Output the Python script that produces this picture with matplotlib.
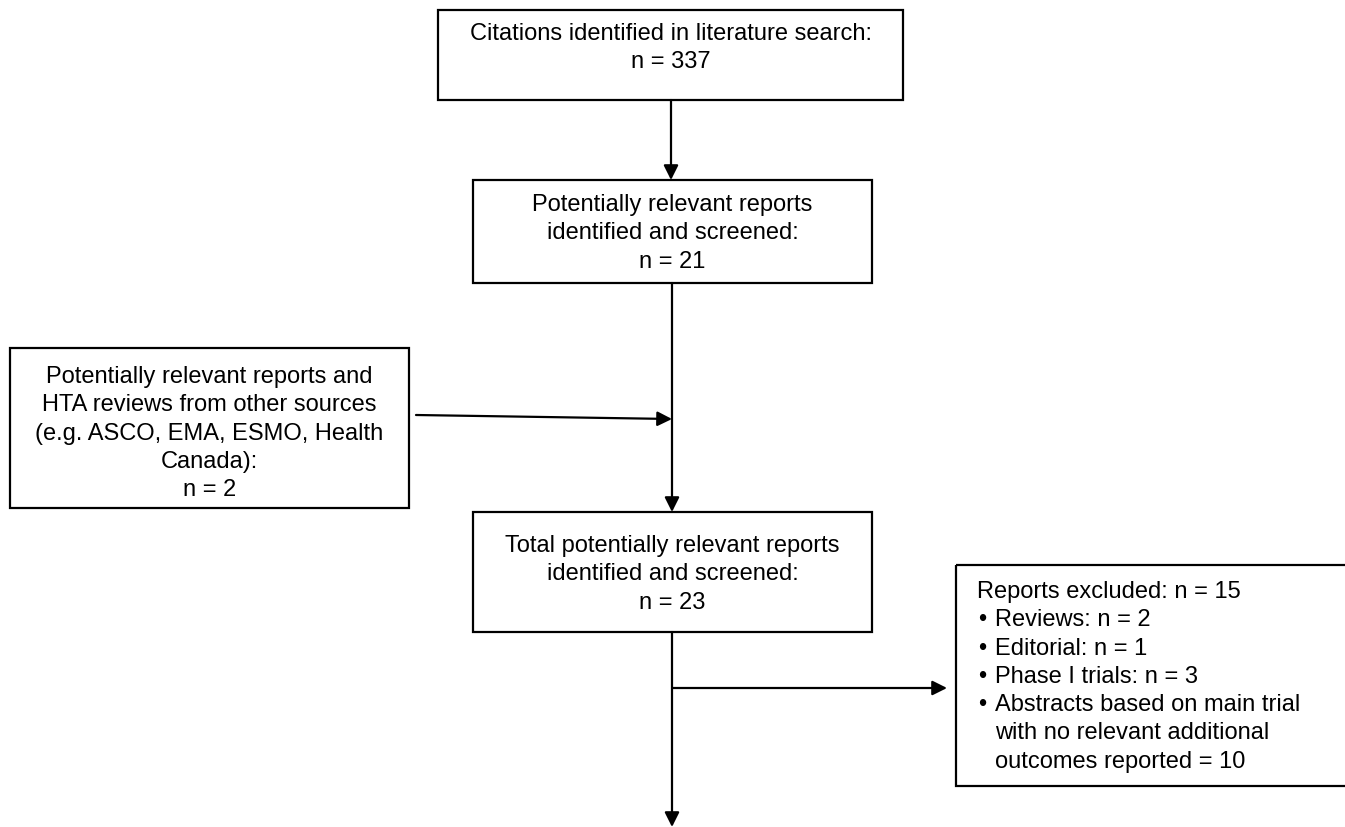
import matplotlib.pyplot as plt
from matplotlib.patches import Rectangle

plt.rcParams['font.family'] = ['Liberation Sans', 'DejaVu Sans']

# box texts of the flow diagram, one list of lines per box
box_lines = [
    ["Citations identified in literature search:", "n = 337"],
    ["Potentially relevant reports", "identified and screened:", "n = 21"],
    ["Potentially relevant reports and", "HTA reviews from other sources",
     "(e.g. ASCO, EMA, ESMO, Health", "Canada):", "n = 2"],
    ["Total potentially relevant reports", "identified and screened:", "n = 23"],
]
excluded_title = "Reports excluded: n = 15"
excluded_items = [["Reviews: n = 2"], ["Editorial: n = 1"], ["Phase I trials: n = 3"],
                  ["Abstracts based on main trial", "with no relevant additional",
                   "outcomes reported = 10"]]

fig = plt.figure(figsize=(13.45, 8.27), dpi=100)
ax = fig.add_axes([0, 0, 1, 1])
ax.set_xlim(0, 1345)
ax.set_ylim(827, 0)
ax.axis('off')

FS = 17
STEP = 28.3

# (x, y, w, h, first line y)
boxes = [(438, 10, 465, 90, 34), (473, 180, 399, 103, 205),
         (10, 348, 399, 160, 377), (473, 512, 399, 120, 546)]

for (x, y, w, h, ty), lines in zip(boxes, box_lines):
    ax.add_patch(Rectangle((x, y), w, h, fill=False, lw=1.6, ec='black'))
    for i, line in enumerate(lines):
        ax.text(x + w / 2, ty + i * STEP, line, ha='center', va='center', fontsize=FS)

# excluded box, runs off the right edge
ax.add_patch(Rectangle((956, 565), 500, 221, fill=False, lw=1.6, ec='black'))
ax.text(977, 592, excluded_title, ha='left', va='center', fontsize=FS)
y = 592 + STEP
for item in excluded_items:
    ax.text(978, y, "\u2022", ha='left', va='center', fontsize=FS)
    for line in item:
        ax.text(995, y, line, ha='left', va='center', fontsize=FS)
        y += STEP

arrows = [((671, 100), (671, 180)), ((672, 283), (672, 512)),
          ((416, 415), (672, 419)), ((672, 632), (672, 827)),
          ((673, 688), (947, 688))]
for start, end in arrows:
    ax.annotate("", xy=end, xytext=start,
                arrowprops=dict(arrowstyle='-|>', lw=1.6, color='black',
                                mutation_scale=22, shrinkA=0, shrinkB=0))

plt.savefig("out.png", dpi=100)
